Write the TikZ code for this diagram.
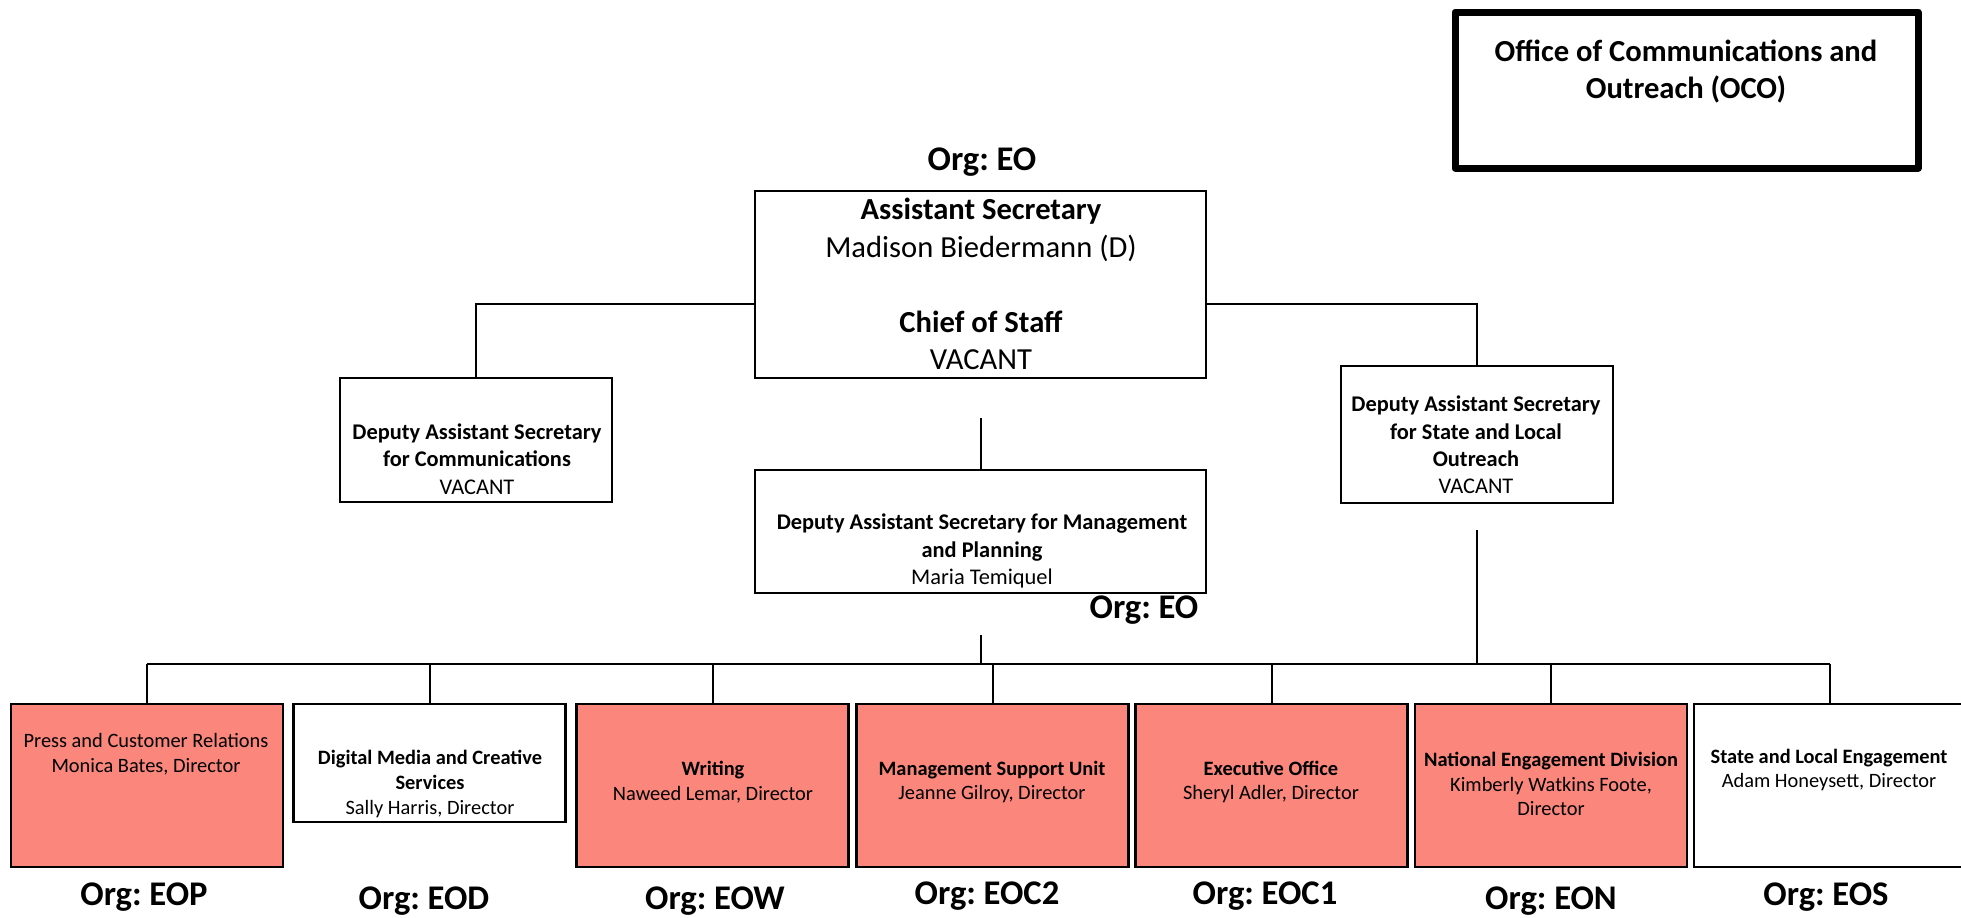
\documentclass[tikz,border=0pt]{standalone}
\usepackage{fontspec}
\setmainfont{Carlito}
\usepackage{xcolor}
\usetikzlibrary{positioning,calc}
\definecolor{salmon}{RGB}{250,134,124}
\frenchspacing

\begin{document}
\begin{tikzpicture}[x=0.5pt, y=-0.5pt,
	box/.style={draw, line width=1.1pt, inner sep=0pt},
	unit/.style={box, minimum width=136pt, minimum height=81.5pt},
	hot/.style={fill=salmon},
	link/.style={line width=1pt},
	org/.style={anchor=base, font=\bfseries\fontsize{17.3}{20}\selectfont},
	big/.style={align=center, font=\fontsize{15.3}{18.8}\selectfont},
	mid/.style={align=center, font=\fontsize{11.2}{13.7}\selectfont},
	small/.style={align=center, font=\fontsize{10.2}{12.4}\selectfont}]
	\useasboundingbox (0,0) rectangle (1961,917);

	% office title
	\node[box, line width=3.5pt, line join=round, minimum width=231.5pt, minimum height=78pt] (oco) at (1686.5,90) {};
	\node[big, font=\bfseries\fontsize{15.3}{18.5}\selectfont] (ocoT) at (1686,72) {Office of Communications and\\Outreach (OCO)};

	% top level
	\node[org] (orgEO) at (982,170) {Org: EO};
	\node[box, minimum width=225.5pt, minimum height=93.5pt] (as) at (980.5,284.5) {};
	\node[big] (asT) at (981,284) {\textbf{Assistant Secretary}\\Madison Biedermann (D)\\[18.8pt]\textbf{Chief of Staff}\\VACANT};

	% deputies
	\node[box, minimum width=136pt, minimum height=62pt] (dasc) at (476,440) {};
	\node[mid] (dascT) at (477,459) {\textbf{Deputy Assistant Secretary}\\\textbf{for Communications}\\VACANT};
	\node[box, minimum width=136pt, minimum height=68.5pt] (dass) at (1477,434.5) {};
	\node[mid] (dassT) at (1476,445) {\textbf{Deputy Assistant Secretary}\\\textbf{for State and Local}\\\textbf{Outreach}\\VACANT};
	\node[box, minimum width=225.5pt, minimum height=61.5pt] (dasm) at (980.5,531.5) {};
	\node[mid] (dasmT) at (982,551) {\textbf{Deputy Assistant Secretary for Management}\\\textbf{and Planning}\\Maria Temiquel};
	\node[org] (orgEO2) at (1144,618) {Org: EO};

	% units
	\node[unit, hot] (press) at (147,785.5) {};
	\node[unit, minimum height=59pt] (dig) at (429.5,763) {};
	\node[unit, hot] (wri) at (712.5,785.5) {};
	\node[unit, hot] (msu) at (992.5,785.5) {};
	\node[unit, hot] (exe) at (1271.5,785.5) {};
	\node[unit, hot] (ned) at (1551,785.5) {};
	\node[unit] (sle) at (1830,785.5) {};

	\node[small] (pressT) at (146,754) {Press and Customer Relations\\Monica Bates, Director};
	\node[small] (digT) at (430,784) {\textbf{Digital Media and Creative}\\\textbf{Services}\\Sally Harris, Director};
	\node[small] (wriT) at (713,782) {\textbf{Writing}\\Naweed Lemar, Director};
	\node[small] (msuT) at (992,782) {\textbf{Management Support Unit}\\Jeanne Gilroy, Director};
	\node[small] (exeT) at (1271,782) {\textbf{Executive Office}\\Sheryl Adler, Director};
	\node[small] (nedT) at (1551,784) {\textbf{National Engagement Division}\\Kimberly Watkins Foote,\\Director};
	\node[small] (sleT) at (1829,770) {\textbf{State and Local Engagement}\\Adam Honeysett, Director};

	\node[org] (orgP) at (144,905) {Org: EOP};
	\node[org] (orgD) at (424,909) {Org: EOD};
	\node[org] (orgW) at (715,909) {Org: EOW};
	\node[org] (orgC2) at (987,904) {Org: EOC2};
	\node[org] (orgC1) at (1265,904) {Org: EOC1};
	\node[org] (orgN) at (1551,909) {Org: EON};
	\node[org] (orgS) at (1826,905) {Org: EOS};

	% connectors
	\draw[link] ([yshift=-9.75pt]as.west) -| (dasc.north);
	\draw[link] ([yshift=-9.75pt]as.east) -| (dass.north);
	\coordinate (mpTop) at (981,418);
	\draw[link] (mpTop) -- (mpTop |- dasm.north);
	\coordinate (mpBot) at (981,635);
	\coordinate (bus) at (981,664);
	\draw[link] (mpBot) -- (bus);
	\coordinate (slBot) at (1477,530);
	\draw[link] (slBot) -- (slBot |- bus);
	\draw[link] (press.north |- bus) -- (sle.north |- bus);
	\foreach \kid in {press,dig,wri,msu,exe,ned,sle}
		\draw[link] (\kid.north |- bus) -- (\kid.north);
\end{tikzpicture}
\end{document}
